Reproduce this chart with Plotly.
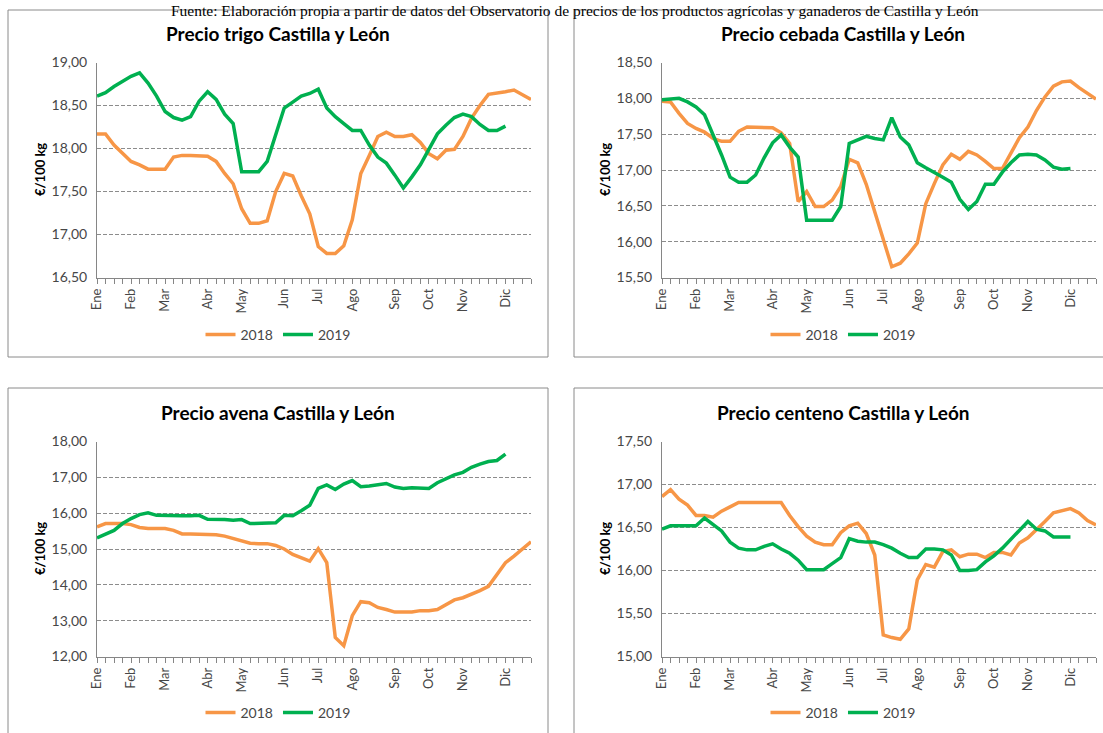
import plotly.graph_objects as go

W, H = 1103, 733

weeks_2018 = list(range(1, 53))
weeks_2019 = list(range(1, 50))
month_labels = ["Ene", "Feb", "Mar", "Abr", "May", "Jun", "Jul", "Ago", "Sep", "Oct", "Nov", "Dic"]
month_weeks = [1, 5, 9, 14, 18, 23, 27, 31, 36, 40, 44, 49]

trigo_2018 = [18.17, 18.17, 18.04, 17.95, 17.85, 17.81, 17.76, 17.76, 17.76, 17.90,
              17.92, 17.92, 17.92, 17.91, 17.85, 17.71, 17.59, 17.30, 17.13, 17.13,
              17.16, 17.50, 17.71, 17.68, 17.45, 17.24, 16.86, 16.78, 16.78, 16.87,
              17.17, 17.71, 17.92, 18.14, 18.19, 18.14, 18.14, 18.16, 18.07, 17.94,
              17.88, 17.98, 17.99, 18.14, 18.35, 18.50, 18.63, 18.64, 18.66, 18.68,
              18.62, 18.57]
trigo_2019 = [18.61, 18.65, 18.72, 18.78, 18.84, 18.88, 18.76, 18.61, 18.43, 18.36,
              18.33, 18.37, 18.55, 18.66, 18.57, 18.40, 18.29, 17.73, 17.73, 17.73,
              17.85, 18.16, 18.47, 18.54, 18.61, 18.64, 18.69, 18.47, 18.37, 18.29,
              18.21, 18.21, 18.04, 17.90, 17.83, 17.69, 17.54, 17.67, 17.81, 17.99,
              18.17, 18.27, 18.36, 18.40, 18.37, 18.28, 18.21, 18.21, 18.26]

cebada_2018 = [17.96, 17.95, 17.79, 17.65, 17.58, 17.53, 17.44, 17.40, 17.40, 17.54,
               17.60, 17.60, 17.60, 17.59, 17.52, 17.37, 16.56, 16.70, 16.49, 16.49,
               16.58, 16.77, 17.15, 17.10, 16.80, 16.42, 16.07, 15.65, 15.70, 15.83,
               15.98, 16.53, 16.81, 17.07, 17.22, 17.15, 17.26, 17.21, 17.12, 17.02,
               17.02, 17.23, 17.45, 17.60, 17.83, 18.02, 18.17, 18.23, 18.24, 18.15,
               18.07, 17.99]
cebada_2019 = [17.98, 17.99, 18.00, 17.95, 17.88, 17.77, 17.50, 17.21, 16.90, 16.83,
               16.83, 16.93, 17.17, 17.38, 17.49, 17.32, 17.18, 16.30, 16.30, 16.30,
               16.30, 16.49, 17.37, 17.42, 17.47, 17.44, 17.42, 17.73, 17.46, 17.35,
               17.10, 17.03, 16.97, 16.90, 16.83, 16.59, 16.45, 16.56, 16.80, 16.80,
               16.97, 17.10, 17.21, 17.22, 17.21, 17.14, 17.04, 17.01, 17.02]

avena_2018 = [15.62, 15.71, 15.71, 15.71, 15.68, 15.60, 15.57, 15.57, 15.57, 15.52,
              15.42, 15.42, 15.41, 15.40, 15.40, 15.36, 15.29, 15.23, 15.16, 15.15,
              15.15, 15.10, 15.00, 14.85, 14.75, 14.66, 15.01, 14.62, 12.53, 12.30,
              13.14, 13.53, 13.50, 13.37, 13.31, 13.24, 13.24, 13.24, 13.28, 13.28,
              13.31, 13.44, 13.58, 13.64, 13.73, 13.84, 13.96, 14.28, 14.62, 14.80,
              15.00, 15.20]
avena_2019 = [15.31, 15.41, 15.52, 15.71, 15.85, 15.96, 16.01, 15.94, 15.93, 15.93,
              15.93, 15.93, 15.94, 15.83, 15.83, 15.82, 15.80, 15.82, 15.71, 15.71,
              15.73, 15.73, 15.94, 15.93, 16.07, 16.22, 16.69, 16.79, 16.66, 16.81,
              16.91, 16.74, 16.76, 16.79, 16.83, 16.73, 16.69, 16.71, 16.71, 16.69,
              16.85, 16.97, 17.07, 17.14, 17.28, 17.37, 17.44, 17.47, 17.65]

centeno_2018 = [16.86, 16.94, 16.83, 16.76, 16.64, 16.64, 16.62, 16.69, 16.74, 16.79,
                16.79, 16.79, 16.79, 16.80, 16.79, 16.64, 16.51, 16.40, 16.33, 16.30,
                16.30, 16.44, 16.52, 16.55, 16.43, 16.18, 15.25, 15.22, 15.20, 15.32,
                15.89, 16.07, 16.04, 16.22, 16.24, 16.16, 16.19, 16.19, 16.15, 16.21,
                16.21, 16.18, 16.32, 16.38, 16.47, 16.57, 16.67, 16.69, 16.72, 16.67,
                16.58, 16.53]
centeno_2019 = [16.48, 16.52, 16.52, 16.52, 16.52, 16.61, 16.54, 16.46, 16.33, 16.26,
                16.24, 16.24, 16.28, 16.31, 16.25, 16.20, 16.12, 16.01, 16.01, 16.01,
                16.08, 16.15, 16.37, 16.34, 16.33, 16.33, 16.30, 16.26, 16.20, 16.15,
                16.15, 16.25, 16.25, 16.24, 16.18, 16.00, 16.00, 16.01, 16.10, 16.17,
                16.26, 16.36, 16.47, 16.57, 16.48, 16.46, 16.39, 16.39, 16.39]

titles = ["Precio trigo Castilla y León", "Precio cebada Castilla y León",
          "Precio avena Castilla y León", "Precio centeno Castilla y León"]
series = [(trigo_2018, trigo_2019), (cebada_2018, cebada_2019),
          (avena_2018, avena_2019), (centeno_2018, centeno_2019)]
y_ranges = [(16.5, 19.0, 0.5), (15.5, 18.5, 0.5), (12.0, 18.0, 1.0), (15.0, 17.5, 0.5)]

source = ("Fuente: Elaboración propia a partir de datos del Observatorio de precios de los "
          "productos agrícolas y ganaderos de Castilla y León")

ORANGE = "#F79646"
GREEN = "#00B050"
GRAY = "#868686"
TXT = "#474747"
FONT = "Lato, Carlito, Calibri, sans-serif"


def px_x(v):
    return v / W


def px_y(v):
    return 1 - v / H


# panel geometry in pixels: box (x0, y0, x1, y1), plot area, title centre x, legend centre
panels = [
    dict(box=(8, 10, 548, 357), plot=(97, 62.5, 531, 277.5), cx=278, legy=335),
    dict(box=(574, 10, 1110, 357), plot=(662, 62.5, 1096, 277.5), cx=843, legy=335),
    dict(box=(8, 388, 548, 740), plot=(97, 441.5, 531, 656.5), cx=278, legy=713),
    dict(box=(574, 388, 1110, 740), plot=(662, 441.5, 1096, 656.5), cx=843, legy=713),
]

fig = go.Figure()
shapes = []
annotations = []
layout_axes = {}

for k, (p, title, (s18, s19), (y0, y1, dy)) in enumerate(zip(panels, titles, series, y_ranges)):
    n = k + 1
    xa = "x" if n == 1 else f"x{n}"
    ya = "y" if n == 1 else f"y{n}"
    leg = "legend" if n == 1 else f"legend{n}"
    bx0, by0, bx1, by1 = p["box"]
    px0, py0, px1, py1 = p["plot"]

    fig.add_trace(go.Scatter(x=weeks_2018, y=s18, name="2018", mode="lines",
                             line=dict(color=ORANGE, width=3.5), xaxis=xa, yaxis=ya,
                             legend=leg, showlegend=True, hoverinfo="skip"))
    fig.add_trace(go.Scatter(x=weeks_2019, y=s19, name="2019", mode="lines",
                             line=dict(color=GREEN, width=3.5), xaxis=xa, yaxis=ya,
                             legend=leg, showlegend=True, hoverinfo="skip"))

    xkey = "xaxis" if n == 1 else f"xaxis{n}"
    ykey = "yaxis" if n == 1 else f"yaxis{n}"
    layout_axes[xkey] = dict(
        domain=[px_x(px0), px_x(px1)], anchor=ya, range=[1, 52], automargin=False,
        tickmode="array", tickvals=month_weeks, ticktext=month_labels,
        tickangle=-90, ticks="outside", ticklen=5, tickcolor=GRAY, tickwidth=1,
        minor=dict(tickmode="linear", tick0=1, dtick=1, ticks="outside", ticklen=5,
                   tickcolor=GRAY, tickwidth=1, showgrid=False),
        showgrid=False, zeroline=False, showline=True, linecolor=GRAY, linewidth=1,
        tickfont=dict(family=FONT, size=13, color=TXT), fixedrange=True,
    )
    ticks = []
    v = y0
    while v <= y1 + 1e-9:
        ticks.append(round(v, 2))
        v += dy
    layout_axes[ykey] = dict(
        domain=[px_y(py1), px_y(py0)], anchor=xa, range=[y0, y1], automargin=False,
        tickmode="array", tickvals=ticks, tickformat=".2f",
        showgrid=True, gridcolor="#8c8c8c", griddash="4px,2px", gridwidth=1,
        zeroline=False, showline=True, linecolor=GRAY, linewidth=1, ticks="",
        ticklabelstandoff=6,
        tickfont=dict(family=FONT, size=14, color=TXT), fixedrange=True,
    )

    shapes.append(dict(type="rect", xref="paper", yref="paper",
                       x0=px_x(bx0), x1=px_x(bx1), y0=px_y(by1), y1=px_y(by0),
                       line=dict(color="#8a8a8a", width=1), fillcolor="rgba(0,0,0,0)",
                       layer="below"))
    annotations.append(dict(text="<b>" + title + "</b>", xref="paper", yref="paper",
                            x=px_x(p["cx"]), y=px_y(py0 - 29), xanchor="center",
                            yanchor="middle", showarrow=False,
                            font=dict(family=FONT, size=19, color="#000000")))
    annotations.append(dict(text="<b>€/100 kg</b>", xref="paper", yref="paper",
                            x=px_x(px0 - 57), y=px_y((py0 + py1) / 2), textangle=-90,
                            xanchor="center", yanchor="middle", showarrow=False,
                            font=dict(family=FONT, size=13, color="#000000")))
    layout_axes[leg] = dict(orientation="h", x=px_x(p["cx"]), y=px_y(p["legy"]),
                            xanchor="center", yanchor="middle", bgcolor="rgba(0,0,0,0)",
                            font=dict(family=FONT, size=14, color=TXT),
                            itemwidth=30, tracegroupgap=0)

annotations.append(dict(text=source, xref="paper", yref="paper", x=px_x(575), y=px_y(11),
                        xanchor="center", yanchor="middle", showarrow=False,
                        font=dict(family="Liberation Serif, Times New Roman, serif", size=15.5,
                                  color="#000000")))

fig.update_layout(
    width=W, height=H, margin=dict(l=0, r=0, t=0, b=0, autoexpand=False),
    paper_bgcolor="white", plot_bgcolor="white",
    separators=",.", shapes=shapes, annotations=annotations,
    **layout_axes,
)

fig.write_html("out.html", config={"displayModeBar": False, "staticPlot": True},
               post_script="document.body.style.margin='0';document.body.style.padding='0';"
                           "document.body.style.overflow='hidden';")
